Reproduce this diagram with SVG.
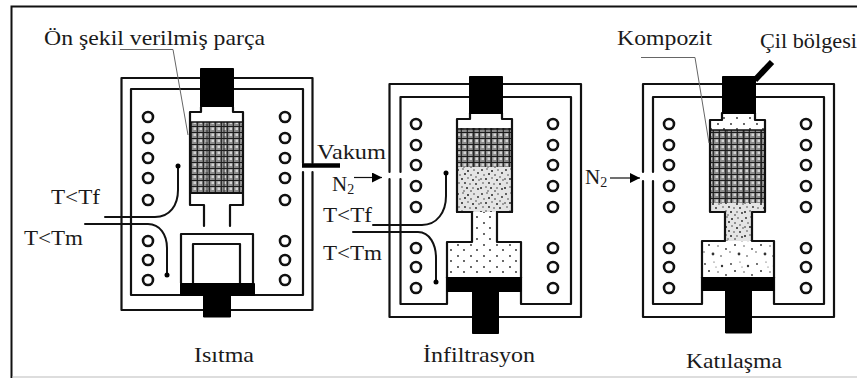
<svg xmlns="http://www.w3.org/2000/svg" width="857" height="378" viewBox="0 0 857 378">
<style>
.w{fill:none;stroke:#111;stroke-width:2.2;stroke-linejoin:round;stroke-linecap:round}
.b{fill:#000;stroke:#000;stroke-width:1;stroke-linejoin:round}
.c{fill:#fff;stroke:#111;stroke-width:2.6}
.l{fill:none;stroke:#111;stroke-width:2;stroke-linecap:round}
.g{fill:none;stroke:#666;stroke-width:1}
.t{font-family:"Liberation Serif","Times New Roman",serif;font-size:21px;fill:#1a1a1a}
.s{font-size:14px}
</style>
<defs>
<pattern id="mesh" width="6" height="6" patternUnits="userSpaceOnUse">
<rect width="6" height="6" fill="#8c8c8c"/>
<rect x="1.5" y="1.5" width="2.5" height="2.5" fill="#d4d4d4"/>
<path d="M0 .5H6M5.3 0V6" stroke="#1c1c1c" stroke-width="1.1" fill="none"/>
</pattern>
<pattern id="powder" width="24" height="24" patternUnits="userSpaceOnUse">
<rect width="24" height="24" fill="#e4e4e4"/>
<g fill="#222">
<circle cx="2" cy="2" r=".9"/><circle cx="7" cy="1" r=".7"/><circle cx="12" cy="3" r="1"/><circle cx="18" cy="2" r=".7"/><circle cx="22" cy="5" r=".9"/>
<circle cx="4" cy="7" r=".7"/><circle cx="9" cy="6" r="1"/><circle cx="15" cy="7" r=".8"/><circle cx="20" cy="9" r=".7"/>
<circle cx="1" cy="11" r=".8"/><circle cx="6" cy="11" r="1"/><circle cx="12" cy="10" r=".7"/><circle cx="17" cy="12" r="1"/><circle cx="23" cy="12" r=".7"/>
<circle cx="3" cy="15" r=".7"/><circle cx="9" cy="15" r=".9"/><circle cx="14" cy="16" r=".7"/><circle cx="20" cy="16" r=".9"/>
<circle cx="1" cy="20" r="1"/><circle cx="6" cy="19" r=".7"/><circle cx="11" cy="20" r="1"/><circle cx="17" cy="20" r=".7"/><circle cx="22" cy="21" r=".9"/>
<circle cx="8" cy="23" r=".7"/><circle cx="15" cy="23" r=".8"/>
</g>
</pattern>
<pattern id="sparse" width="26" height="26" patternUnits="userSpaceOnUse">
<rect width="26" height="26" fill="#fff"/>
<g fill="#333">
<circle cx="3" cy="4" r=".9"/><circle cx="12" cy="2" r=".6"/><circle cx="20" cy="6" r="1.2"/><circle cx="7" cy="11" r="1"/><circle cx="16" cy="12" r=".7"/><circle cx="24" cy="15" r=".9"/><circle cx="2" cy="18" r=".7"/><circle cx="11" cy="20" r="1.4"/><circle cx="19" cy="22" r=".8"/><circle cx="14" cy="7" r=".5"/>
</g>
</pattern>
<pattern id="dots" width="13" height="11" patternUnits="userSpaceOnUse">
<rect width="13" height="11" fill="#fff"/>
<circle cx="3" cy="3" r=".9" fill="#222"/><circle cx="9" cy="8" r=".9" fill="#222"/>
</pattern>
<marker id="ah" markerWidth="11" markerHeight="10" refX="10" refY="5" orient="auto" markerUnits="userSpaceOnUse">
<path d="M0 0L10 5L0 10Z" fill="#000"/>
</marker>
<marker id="dot" markerWidth="6" markerHeight="6" refX="3" refY="3" markerUnits="userSpaceOnUse">
<circle cx="3" cy="3" r="2.5" fill="#000"/>
</marker>
</defs>
<rect width="857" height="378" fill="#fff"/>
<g id="frame">
<path d="M11.5 378V6.5H857" fill="none" stroke="#111" stroke-width="2"/>
<path d="M12 377H857" fill="none" stroke="#bbb" stroke-width="1"/>
</g>
<g id="panel-isitma">
<path class="w" d="M312.5 163V78H121.500V310H312.500V172"/>
<path class="w" d="M303 163V89H131V295H303V172"/>
<rect x="190" y="122" width="53" height="71" fill="url(#mesh)"/>
<path d="M207 122V193M224 122V193" stroke="#222" stroke-width="1" fill="none"/>
<path class="w" d="M201 107V112H190V205H204V226M233 107V112H243V205H230V226"/>
<path d="M190 122H243" stroke="#111" stroke-width="1.500"/>
<path class="w" d="M190 193H243"/>
<rect class="b" x="200.500" y="68.500" width="33" height="38"/>
<path class="w" d="M181 283V234H253V283"/>
<rect class="w" x="193" y="244" width="47" height="40"/>
<rect class="b" x="180.500" y="283.500" width="74" height="12"/>
<rect class="b" x="203.500" y="295" width="27" height="22"/>
<g class="coils">
<circle class="c" cx="148" cy="117" r="5"/><circle class="c" cx="148" cy="138" r="5"/><circle class="c" cx="148" cy="158" r="5"/><circle class="c" cx="148" cy="178" r="5"/><circle class="c" cx="148" cy="200" r="5"/><circle class="c" cx="148" cy="241" r="5"/><circle class="c" cx="148" cy="260" r="5"/><circle class="c" cx="148" cy="280" r="5"/>
<circle class="c" cx="285" cy="117" r="5"/><circle class="c" cx="285" cy="138" r="5"/><circle class="c" cx="285" cy="158" r="5"/><circle class="c" cx="285" cy="178" r="5"/><circle class="c" cx="285" cy="200" r="5"/><circle class="c" cx="285" cy="241" r="5"/><circle class="c" cx="285" cy="260" r="5"/><circle class="c" cx="285" cy="280" r="5"/>
</g>
<text class="t" x="44" y="45" textLength="221" lengthAdjust="spacingAndGlyphs">Ön şekil verilmiş parça</text>
<text class="t" x="51" y="204" textLength="49" lengthAdjust="spacingAndGlyphs">T&lt;Tf</text>
<text class="t" x="24" y="245" textLength="59" lengthAdjust="spacingAndGlyphs">T&lt;Tm</text>
<text class="t" x="194" y="362" textLength="60" lengthAdjust="spacingAndGlyphs">Isıtma</text>
</g>
<g id="panel-infiltrasyon">
<path class="w" d="M389.500 172V84H581V317H389.500V179"/>
<path class="w" d="M400.500 172V97H571V304H521V277M447 277V304H400.500V179"/>
<rect x="457" y="128" width="55" height="39" fill="url(#mesh)"/>
<rect x="457" y="167" width="55" height="45" fill="url(#powder)"/>
<path d="M474 128V167M491 128V167" stroke="#222" stroke-width="1" fill="none"/>
<rect x="472" y="212" width="25" height="32" fill="url(#dots)"/>
<rect x="447" y="242" width="74" height="36" fill="url(#dots)"/>
<path class="w" d="M470 113V119H457V212H472V242H447V278M502 113V119H512V212H497V242H521V278"/>
<path d="M457 129H512" stroke="#111" stroke-width="1.500"/>
<path class="w" d="M457 212H472M497 212H512"/>
<rect class="b" x="469.500" y="76.500" width="33" height="37"/>
<rect class="b" x="447" y="277.500" width="74" height="14"/>
<rect class="b" x="472.500" y="291" width="26" height="42.500"/>
<g class="coils">
<circle class="c" cx="416" cy="124" r="5"/><circle class="c" cx="416" cy="145" r="5"/><circle class="c" cx="416" cy="165" r="5"/><circle class="c" cx="416" cy="186" r="5"/><circle class="c" cx="416" cy="207" r="5"/><circle class="c" cx="416" cy="248" r="5"/><circle class="c" cx="416" cy="267" r="5"/><circle class="c" cx="416" cy="288" r="5"/>
<circle class="c" cx="553" cy="124" r="5"/><circle class="c" cx="553" cy="145" r="5"/><circle class="c" cx="553" cy="165" r="5"/><circle class="c" cx="553" cy="186" r="5"/><circle class="c" cx="553" cy="207" r="5"/><circle class="c" cx="553" cy="248" r="5"/><circle class="c" cx="553" cy="267" r="5"/><circle class="c" cx="553" cy="288" r="5"/>
</g>
<text class="t" x="317" y="159" textLength="69" lengthAdjust="spacingAndGlyphs">Vakum</text>
<text class="t" x="332" y="191">N<tspan class="s" dy="3">2</tspan></text>
<text class="t" x="323" y="222" textLength="49" lengthAdjust="spacingAndGlyphs">T&lt;Tf</text>
<text class="t" x="323" y="260" textLength="59" lengthAdjust="spacingAndGlyphs">T&lt;Tm</text>
<text class="t" x="423" y="362" textLength="112" lengthAdjust="spacingAndGlyphs">İnfiltrasyon</text>
</g>
<g id="panel-katilasma">
<path class="w" d="M643 172V84H834V317H643V181"/>
<path class="w" d="M653 172V97H824V304H774V277M702 277V304H653V181"/>
<rect x="722" y="113" width="33" height="8" fill="url(#dots)"/>
<rect x="710" y="120" width="55" height="10" fill="url(#dots)"/>
<rect x="710" y="130" width="55" height="73" fill="url(#mesh)"/>
<path d="M727 130V203M744 130V203M761 130V203" stroke="#222" stroke-width="1" fill="none"/>
<rect x="710" y="203" width="55" height="9" fill="url(#powder)"/>
<rect x="725" y="210" width="27" height="32" fill="url(#powder)"/>
<rect x="702" y="241" width="72" height="36" fill="url(#sparse)"/>
<path class="w" d="M722 113V120H710V212H725V241H702V278M755 113V120H765V212H752V241H774V278"/>
<path d="M710 130H765" stroke="#111" stroke-width="1.500"/>
<rect class="b" x="722.500" y="76.500" width="33" height="37"/>
<path d="M755 80L772 62" stroke="#000" stroke-width="6" fill="none"/>
<rect class="b" x="702" y="277.500" width="72" height="13"/>
<rect class="b" x="725.500" y="290" width="26" height="43"/>
<g class="coils">
<circle class="c" cx="669" cy="124" r="5"/><circle class="c" cx="669" cy="145" r="5"/><circle class="c" cx="669" cy="165" r="5"/><circle class="c" cx="669" cy="186" r="5"/><circle class="c" cx="669" cy="207" r="5"/><circle class="c" cx="669" cy="248" r="5"/><circle class="c" cx="669" cy="267" r="5"/><circle class="c" cx="669" cy="288" r="5"/>
<circle class="c" cx="806" cy="124" r="5"/><circle class="c" cx="806" cy="145" r="5"/><circle class="c" cx="806" cy="165" r="5"/><circle class="c" cx="806" cy="186" r="5"/><circle class="c" cx="806" cy="207" r="5"/><circle class="c" cx="806" cy="248" r="5"/><circle class="c" cx="806" cy="267" r="5"/><circle class="c" cx="806" cy="288" r="5"/>
</g>
<text class="t" x="585" y="184">N<tspan class="s" dy="3">2</tspan></text>
<text class="t" x="617" y="45" textLength="95" lengthAdjust="spacingAndGlyphs">Kompozit</text>
<text class="t" x="760" y="48" textLength="97" lengthAdjust="spacingAndGlyphs">Çil bölgesi</text>
<text class="t" x="686" y="368" textLength="96" lengthAdjust="spacingAndGlyphs">Katılaşma</text>
</g>
<g id="connectors">
<path class="g" d="M120 49.500H173L188 135"/>
<path class="g" d="M641 57.500H695L709 143"/>
<path d="M302 165.500H340" stroke="#000" stroke-width="4.500" fill="none"/>
<path class="l" d="M105 217H155C170 217 178 205 178 190V166" marker-end="url(#dot)"/>
<path class="l" d="M85 224H148C160 224 167 235 167 248V275" marker-end="url(#dot)"/>
<path class="l" d="M373 225H422C437 225 446 212 446 196V173" marker-end="url(#dot)"/>
<path class="l" d="M353 232H418C430 232 436 245 436 258V282" marker-end="url(#dot)"/>
<path d="M354 177.500H382" stroke="#111" stroke-width="1.200" fill="none" marker-end="url(#ah)"/>
<path d="M610 178H640" stroke="#111" stroke-width="1.200" fill="none" marker-end="url(#ah)"/>
</g>
</svg>
